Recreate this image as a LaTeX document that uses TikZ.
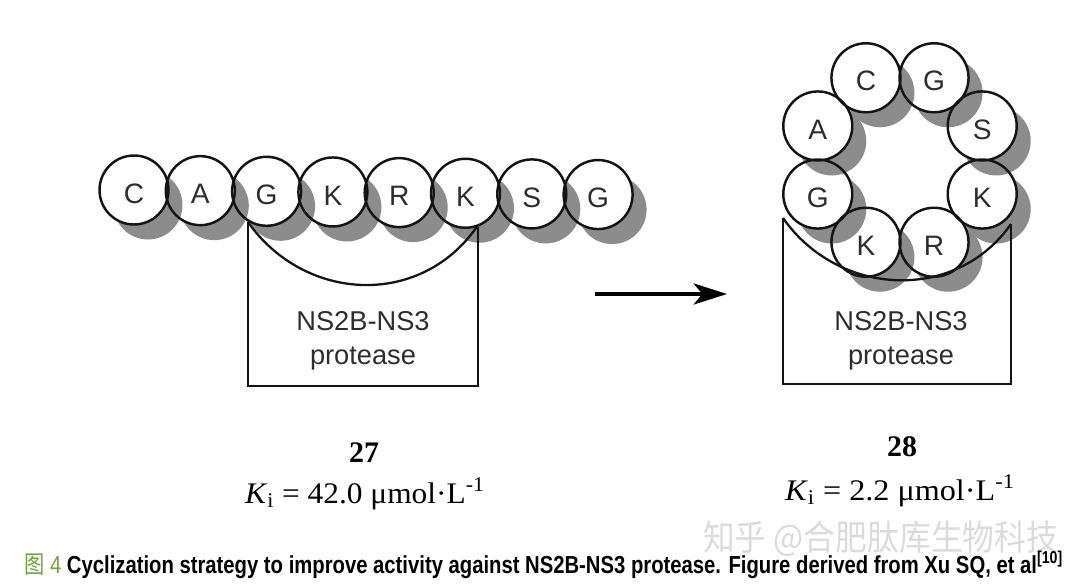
\documentclass[tikz,border=0pt]{standalone}
\usepackage{fontspec}
\setmainfont{Liberation Sans}
\newfontfamily\timesfont{Liberation Serif}
\newfontfamily\cjk{Noto Sans CJK SC}
\usetikzlibrary{arrows.meta,calc,positioning}
\definecolor{shadowgray}{RGB}{140,140,140}
\definecolor{lettergray}{RGB}{45,45,45}
\definecolor{capgreen}{RGB}{112,165,62}
\tikzset{
  res/.style={circle,draw=black!92,line width=1.4pt,minimum size=1.38cm,inner sep=0pt,
              text height=15pt,text depth=0pt,
              text=lettergray,font=\fontsize{16}{16}\selectfont},
  resshadow/.style={fill=shadowgray},
  enzyme/.style={draw=black!92,line width=1.3pt},
  enzymetext/.style={align=center,text=lettergray,font=\fontsize{15.5}{19.5}\selectfont},
  cpdnum/.style={font=\timesfont\bfseries\fontsize{17}{17}\selectfont},
  kival/.style={font=\timesfont\fontsize{17}{17}\selectfont}
}

\begin{document}
\begin{tikzpicture}[x=0.02cm,y=-0.02cm]
\useasboundingbox (0,0) rectangle (1080,585);

\foreach \i in {8,7,...,1}{
  \fill[resshadow] ({134+66.3*(\i-1)+14},{190+0.65*(\i-1)+15}) circle[radius=34.5];
  \fill[white] ({134+66.3*(\i-1)},{190+0.65*(\i-1)}) circle[radius=34.5];
}
\foreach \i/\aa in {1/C,2/A,3/G,4/K,5/R,6/K,7/S,8/G}
  \node[res] (l\i) at ({134+66.3*(\i-1)},{190+0.65*(\i-1)}) {\aa};
\coordinate (lbot) at (0,386);
\draw[enzyme] (l3.-122) -- (l3.-122 |- lbot) -| (l6.-70);
\draw[enzyme] (l3.-122) to[out=-55,in=-125,looseness=1.1] (l6.-72);
\node[enzymetext] (lprot) at (363,341) {NS2B-NS3\\protease};

\coordinate (a0) at (595,294);
\coordinate (a1) at (727,294);
\draw[line width=1.8pt,-{Stealth[length=19pt,width=12pt,inset=5pt]}] (a0) -- (a1);

\foreach \k in {4,3,2,1,5,6,7,0}{
  \fill[resshadow] ({900+89*cos(112.5+45*\k)+14},{160-89*sin(112.5+45*\k)+15}) circle[radius=34.5];
  \fill[white] ({900+89*cos(112.5+45*\k)},{160-89*sin(112.5+45*\k)}) circle[radius=34.5];
}
\coordinate (rtl) at (783,218);
\coordinate (rtr) at (1011,224);
\coordinate (rbot) at (0,384);
\draw[enzyme] (rtl) -- (rtl |- rbot) -| (rtr);
\draw[enzyme] (rtl) to[out=-55,in=-125,looseness=1.08] (rtr);
\foreach \k/\aa in {0/C,1/A,2/G,3/K,4/R,5/K,6/S,7/G}
  \node[res] (r\k) at ({900+89*cos(112.5+45*\k)},{160-89*sin(112.5+45*\k)}) {\aa};
\node[enzymetext] (rprot) at (901,341) {NS2B-NS3\\protease};

\node[cpdnum] (c27) at (364,453) {27};
\node[kival,anchor=base] (k27) at (365,503) {\resizebox{4.8cm}{\height}{\textit{K}\textsubscript{i} = 42.0 μmol·L\textsuperscript{-1}}};
\node[cpdnum] (c28) at (902,447) {28};
\node[kival,anchor=base] (k28) at (900,500) {\resizebox{4.6cm}{\height}{\textit{K}\textsubscript{i} = 2.2 μmol·L\textsuperscript{-1}}};

\node[anchor=west,text=gray!28,font=\cjk\fontsize{20}{20}\selectfont] (wm) at (697,539)
  {\resizebox{7.1cm}{\height}{知乎 @合肥肽库生物科技}};
\node[anchor=base west,font=\bfseries\fontsize{14}{14}\selectfont] (cap) at (18,573)
  {\resizebox{20.78cm}{\height}{{\color{capgreen}\mdseries{\cjk 图} 4} Cyclization strategy to improve activity against NS2B-NS3 protease. Figure derived from Xu SQ, et al\textsuperscript{[10]}}};
\end{tikzpicture}
\end{document}
